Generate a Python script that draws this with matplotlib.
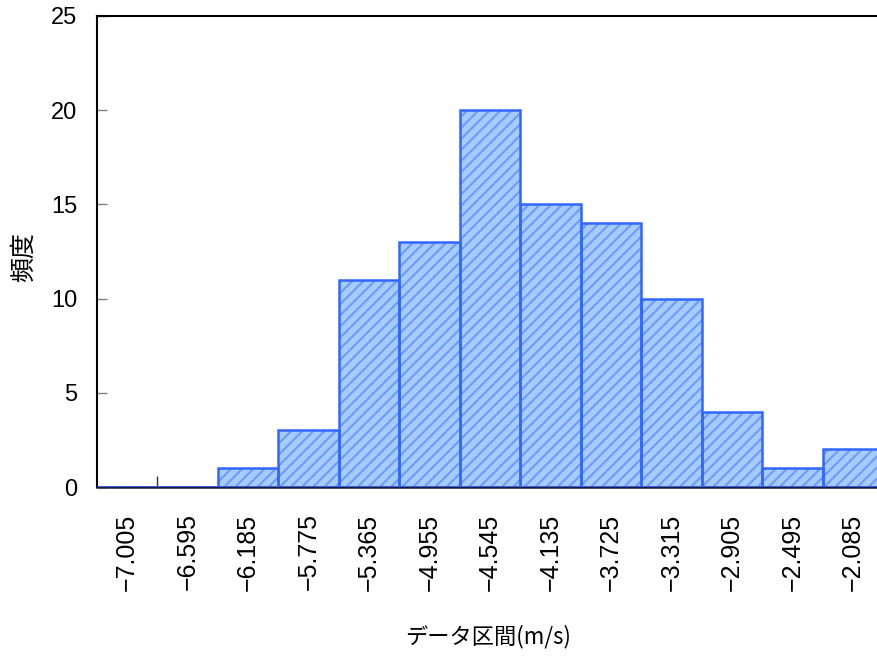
import matplotlib
matplotlib.use("Agg")
import matplotlib.pyplot as plt
import numpy as np

categories = ["-7.005", "-6.595", "-6.185", "-5.775", "-5.365", "-4.955", "-4.545",
              "-4.135", "-3.725", "-3.315", "-2.905", "-2.495", "-2.085"]
counts = [0, 0, 1, 3, 11, 13, 20, 15, 14, 10, 4, 1, 2]
xlabel = "データ区間(m/s)"
ylabel = "頻度"

plt.rcParams['font.family'] = ['Liberation Sans', 'Noto Sans CJK JP', 'DejaVu Sans']
plt.rcParams['hatch.linewidth'] = 1.5

fig = plt.figure(figsize=(8.78, 6.58), dpi=100)
ax = fig.add_axes([96.75/878, 1-487/658, 786.5/878, 471/658])

x = np.arange(len(categories))
# fill with hatch (hatch colour = edgecolor in this layer)
ax.bar(x, counts, width=1.0, color='#a6cbff', edgecolor='#6b9bff', linewidth=0,
       hatch='///', zorder=2)
# outline
ax.bar(x, counts, width=1.0, fill=False, edgecolor='#3366ff', linewidth=1.8, zorder=3)

ax.set_xlim(-0.5, len(categories) - 0.5)
ax.set_ylim(0, 25)
ax.set_yticks([0, 5, 10, 15, 20, 25])
ax.set_yticklabels(["0", "5", "10", "15", "20", "25"], fontsize=17)
ax.tick_params(axis='y', direction='in', length=7, color='#808080', width=1, pad=14)

# ticks at category boundaries, labels centered
ax.set_xticks(x[1:] - 0.5, minor=False)
ax.set_xticklabels([])
ax.set_xticks(x, minor=True)
ax.set_xticklabels([c.replace('-', '\u2212') for c in categories], minor=True,
                   rotation=90, fontsize=18)
ax.tick_params(axis='x', which='minor', length=0, pad=19)
ax.tick_params(axis='x', which='major', direction='in', length=8, color='#333333', width=1)

for s in ['top', 'left', 'right']:
    ax.spines[s].set_color('black')
    ax.spines[s].set_linewidth(1.5)
ax.spines['bottom'].set_color('#1a1a4d')
ax.spines['bottom'].set_linewidth(1.8)

fig.text(488/878, 1-637/658, xlabel, ha='center', va='center', fontsize=16,
         family=['Noto Sans CJK JP', 'DejaVu Sans'])
fig.text(24/878, 1-257/658, ylabel, ha='center', va='center', fontsize=18, rotation=90,
         family=['Noto Sans CJK JP', 'DejaVu Sans'])

fig.savefig("out.png", dpi=100)
